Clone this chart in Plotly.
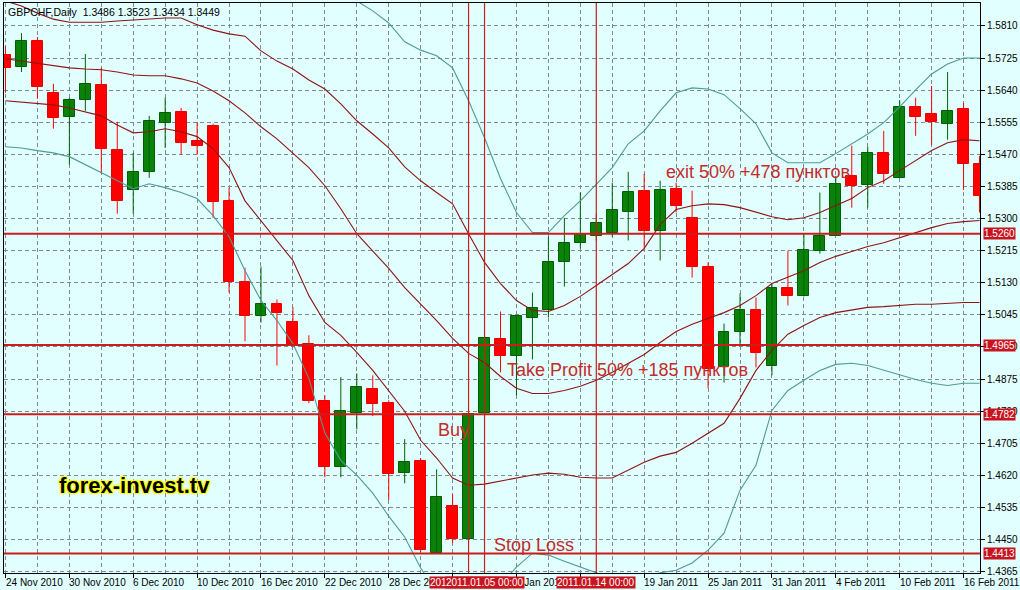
import plotly.graph_objects as go

# ---------------- data ----------------
tick_idx = list(range(0, 61, 4))
tick_text = ["24 Nov 2010", "30 Nov 2010", "6 Dec 2010", "10 Dec 2010", "16 Dec 2010",
             "22 Dec 2010", "28 Dec 2010", "3 Jan 2011", "7 Jan 2011", "13 Jan 2011",
             "19 Jan 2011", "25 Jan 2011", "31 Jan 2011", "4 Feb 2011", "10 Feb 2011",
             "16 Feb 2011"]

opens = [1.5733, 1.5702, 1.5770, 1.5633, 1.5569, 1.5614, 1.5654, 1.5482, 1.5376, 1.5424,
         1.5554, 1.5583, 1.5506, 1.5546, 1.5347, 1.5133, 1.5041, 1.5073, 1.5025, 1.4967,
         1.4816, 1.4642, 1.4784, 1.4848, 1.4811, 1.4626, 1.4658, 1.4414, 1.4539, 1.4451,
         1.4784, 1.4980, 1.4935, 1.5038, 1.5059, 1.5184, 1.5236, 1.5255, 1.5263, 1.5318,
         1.5374, 1.5268, 1.5379, 1.5302, 1.5173, 1.4906, 1.5001, 1.5057, 1.4909, 1.5115,
         1.5096, 1.5215, 1.5255, 1.5413, 1.5390, 1.5474, 1.5408, 1.5596, 1.5577, 1.5551,
         1.5591, 1.5445]
highs = [1.5757, 1.5791, 1.5781, 1.5657, 1.5620, 1.5736, 1.5699, 1.5556, 1.5474, 1.5572,
         1.5620, 1.5593, 1.5554, 1.5551, 1.5382, 1.5170, 1.5173, 1.5086, 1.5065, 1.4991,
         1.4832, 1.4880, 1.4890, 1.4885, 1.4819, 1.4716, 1.4666, 1.4636, 1.4570, 1.4782,
         1.4985, 1.5054, 1.5041, 1.5104, 1.5252, 1.5302, 1.5369, 1.5313, 1.5395, 1.5424,
         1.5419, 1.5400, 1.5395, 1.5374, 1.5184, 1.5022, 1.5102, 1.5091, 1.5128, 1.5215,
         1.5260, 1.5369, 1.5413, 1.5493, 1.5490, 1.5532, 1.5614, 1.5620, 1.5651, 1.5688,
         1.5606, 1.5466]
lows = [1.5633, 1.5688, 1.5617, 1.5538, 1.5443, 1.5585, 1.5419, 1.5313, 1.5313, 1.5408,
        1.5487, 1.5469, 1.5469, 1.5302, 1.5104, 1.4975, 1.5025, 1.4911, 1.4959, 1.4811,
        1.4615, 1.4615, 1.4742, 1.4777, 1.4555, 1.4599, 1.4417, 1.4413, 1.4441, 1.4446,
        1.4782, 1.4893, 1.4832, 1.4927, 1.5038, 1.5120, 1.5221, 1.5242, 1.5252, 1.5242,
        1.5223, 1.5189, 1.5316, 1.5144, 1.4851, 1.4866, 1.4967, 1.4906, 1.4885, 1.5070,
        1.5094, 1.5207, 1.5255, 1.5329, 1.5329, 1.5392, 1.5408, 1.5519, 1.5495, 1.5509,
        1.5376, 1.5316]
closes = [1.5699, 1.5770, 1.5649, 1.5567, 1.5614, 1.5657, 1.5485, 1.5347, 1.5424, 1.5559,
          1.5580, 1.5501, 1.5493, 1.5345, 1.5133, 1.5041, 1.5073, 1.5051, 1.4964, 1.4816,
          1.4642, 1.4790, 1.4853, 1.4808, 1.4623, 1.4655, 1.4422, 1.4562, 1.4451, 1.4782,
          1.4983, 1.4935, 1.5041, 1.5062, 1.5184, 1.5236, 1.5260, 1.5289, 1.5324, 1.5371,
          1.5268, 1.5376, 1.5334, 1.5173, 1.4903, 1.4999, 1.5057, 1.4943, 1.5115, 1.5094,
          1.5218, 1.5255, 1.5392, 1.5387, 1.5474, 1.5419, 1.5596, 1.5569, 1.5556, 1.5585,
          1.5445, 1.5361]

# inner bands (maroon)
bb_upper = [1.5876, 1.5863, 1.5844, 1.5828, 1.5820, 1.5820, 1.5820, 1.5823, 1.5826, 1.5828,
            1.5831, 1.5831, 1.5813, 1.5799, 1.5789, 1.5783, 1.5744, 1.5717, 1.5696, 1.5667,
            1.5643, 1.5604, 1.5559, 1.5524, 1.5487, 1.5437, 1.5400, 1.5369, 1.5339, 1.5260,
            1.5184, 1.5128, 1.5083, 1.5057, 1.5054, 1.5070, 1.5094, 1.5123, 1.5152, 1.5181,
            1.5221, 1.5284, 1.5324, 1.5334, 1.5339, 1.5337, 1.5329, 1.5316, 1.5305, 1.5297,
            1.5302, 1.5316, 1.5334, 1.5353, 1.5382, 1.5400, 1.5427, 1.5453, 1.5480, 1.5501,
            1.5509, 1.5506]
bb_mid = [1.5723, 1.5717, 1.5712, 1.5704, 1.5699, 1.5696, 1.5694, 1.5688, 1.5680, 1.5678,
          1.5678, 1.5670, 1.5659, 1.5638, 1.5612, 1.5580, 1.5543, 1.5511, 1.5474, 1.5435,
          1.5387, 1.5326, 1.5260, 1.5215, 1.5168, 1.5117, 1.5073, 1.5030, 1.4983, 1.4943,
          1.4919, 1.4882, 1.4851, 1.4837, 1.4837, 1.4845, 1.4856, 1.4872, 1.4893, 1.4917,
          1.4940, 1.4972, 1.5001, 1.5020, 1.5036, 1.5051, 1.5070, 1.5096, 1.5128, 1.5144,
          1.5162, 1.5184, 1.5200, 1.5213, 1.5226, 1.5236, 1.5250, 1.5263, 1.5276, 1.5287,
          1.5292, 1.5295]
bb_lower = [1.5612, 1.5609, 1.5606, 1.5601, 1.5593, 1.5583, 1.5572, 1.5548, 1.5527, 1.5530,
            1.5538, 1.5530, 1.5517, 1.5485, 1.5435, 1.5347, 1.5295, 1.5242, 1.5189, 1.5096,
            1.5025, 1.4991, 1.4946, 1.4898, 1.4845, 1.4790, 1.4713, 1.4666, 1.4613, 1.4594,
            1.4597, 1.4605, 1.4615, 1.4621, 1.4626, 1.4623, 1.4615, 1.4613, 1.4613, 1.4634,
            1.4655, 1.4671, 1.4681, 1.4705, 1.4732, 1.4758, 1.4824, 1.4898, 1.4951, 1.4994,
            1.5017, 1.5038, 1.5051, 1.5059, 1.5065, 1.5067, 1.5070, 1.5073, 1.5073, 1.5075,
            1.5078, 1.5078]
# outer bands (teal)
outer_upper = [None] * 21 + [
            1.5902, 1.5876, 1.5850, 1.5818, 1.5768, 1.5746, 1.5731, 1.5699, 1.5612,
            1.5514, 1.5406, 1.5316, 1.5263, 1.5263, 1.5308, 1.5347, 1.5392, 1.5435, 1.5498,
            1.5532, 1.5585, 1.5633, 1.5646, 1.5643, 1.5628, 1.5591, 1.5551, 1.5474, 1.5448,
            1.5448, 1.5448, 1.5472, 1.5498, 1.5524, 1.5554, 1.5596, 1.5641, 1.5683, 1.5709,
            1.5725, 1.5725]
outer_lower = [1.5490, 1.5487, 1.5480, 1.5474, 1.5464, 1.5443, 1.5421, 1.5400, 1.5379, 1.5392,
               1.5382, 1.5369, 1.5353, 1.5308, 1.5252, 1.5162, 1.5083, 1.5030, 1.4969, 1.4877,
               1.4732, 1.4660, 1.4621, 1.4573, 1.4512, 1.4457, 1.4375, 1.4311, 1.4290, 1.4277,
               1.4290, 1.4330, 1.4377, 1.4414, 1.4409, 1.4393, 1.4377, 1.4362, 1.4348, 1.4343,
               1.4348, 1.4362, 1.4369, 1.4388, 1.4422, 1.4467, 1.4581, 1.4647, 1.4792, 1.4845,
               1.4872, 1.4898, 1.4914, 1.4917, 1.4911, 1.4898, 1.4885, 1.4874, 1.4864, 1.4858,
               1.4864, 1.4864]

hlines = [1.5260, 1.4965, 1.4782, 1.4413]
vline_idx = [29, 30, 37]
vline_text = ["2011.01.04 00:00", "2011.01.05 00:00", "2011.01.14 00:00"]

title_text = "GBPCHF,Daily  1.3486 1.3523 1.3434 1.3449"
notes = [("exit 50% +478 пунктов", 41.25, 1.5423),
         ("Take Profit 50% +185 пунктов", 31.3, 1.4898),
         ("Buy", 26.95, 1.4740),
         ("Stop Loss", 30.45, 1.4437)]
brand = ("forex-invest.tv", 3.2, 1.4594)

# ---------------- styling ----------------
BG = "#e1ffff"
GRID = "#7d8b90"
BULL = "#0a820a"
BULL_EDGE = "#006000"
BEAR = "#ff0000"
MAROON = "#8e1414"
TEAL = "#509a96"
LINE_RED = "#cc1c1c"
FONT = "Liberation Sans"

idx = list(range(len(opens)))
bull_i = [i for i in idx if closes[i] >= opens[i]]
bear_i = [i for i in idx if closes[i] < opens[i]]


def wick_xy(ids):
    xs, ys = [], []
    for i in ids:
        xs += [i, i, None]
        ys += [lows[i], highs[i], None]
    return xs, ys


fig = go.Figure()
for ids, col in ((bull_i, BULL_EDGE), (bear_i, BEAR)):
    wx, wy = wick_xy(ids)
    fig.add_trace(go.Scatter(x=wx, y=wy, mode="lines", line=dict(color=col, width=1),
                             hoverinfo="skip", showlegend=False))

for ids, fill, edge in ((bull_i, BULL, BULL_EDGE), (bear_i, BEAR, "#e80000")):
    fig.add_trace(go.Bar(
        x=ids,
        y=[abs(closes[i] - opens[i]) for i in ids],
        base=[min(opens[i], closes[i]) for i in ids],
        width=0.68,
        marker=dict(color=fill, line=dict(color=edge, width=1)),
        showlegend=False, hoverinfo="skip"))

for series, col in ((bb_upper, MAROON), (bb_mid, MAROON), (bb_lower, MAROON),
                    (outer_upper, TEAL), (outer_lower, TEAL)):
    fig.add_trace(go.Scatter(x=idx, y=series, mode="lines",
                             line=dict(color=col, width=1.1),
                             hoverinfo="skip", showlegend=False, connectgaps=False))

shapes = []
for lv in hlines:
    shapes.append(dict(type="line", xref="paper", x0=0, x1=1, yref="y", y0=lv, y1=lv,
                       line=dict(color=LINE_RED, width=2), layer="above"))
for vi in vline_idx:
    shapes.append(dict(type="line", xref="x", x0=vi, x1=vi, yref="paper", y0=0, y1=1,
                       line=dict(color=LINE_RED, width=1.2), layer="above"))

ann = []
ann.append(dict(text=title_text, xref="paper", yref="paper", x=0, y=1, xanchor="left",
                yanchor="top", xshift=2, yshift=-1, showarrow=False,
                font=dict(family=FONT, size=10.5, color="black")))
for t, x, y in notes:
    ann.append(dict(text=t, xref="x", yref="y", x=x, y=y, xanchor="left", yanchor="middle",
                    showarrow=False, font=dict(family=FONT, size=18, color="#c42a2a")))
ann.append(dict(text="<b>" + brand[0] + "</b>", xref="x", yref="y", x=brand[1], y=brand[2],
                xanchor="left", yanchor="middle", showarrow=False,
                font=dict(family=FONT, size=22, color="black",
                          shadow="1px 1px 1px #ffff00, -1px -1px 1px #ffff00, "
                                 "1px -1px 1px #ffff00, -1px 1px 1px #ffff00, 0 0 3px #ffff00")))
for ti, tt in zip(tick_idx, tick_text):
    ann.append(dict(text=tt, xref="x", yref="paper", x=ti, y=0, xanchor="left",
                    yanchor="top", xshift=-2, yshift=-2, showarrow=False,
                    font=dict(family=FONT, size=10, color="black")))
for vi, vt in zip(vline_idx, vline_text):
    ann.append(dict(text=vt, xref="x", yref="paper", x=vi, y=0, xanchor="center",
                    yanchor="top", yshift=-3, showarrow=False, bgcolor="#c8141e",
                    borderpad=0, font=dict(family=FONT, size=10, color="white")))
for lv in hlines:
    ann.append(dict(text=f"{lv:.4f}", xref="paper", yref="y", x=1, y=lv, xanchor="left",
                    yanchor="middle", xshift=3, showarrow=False, bgcolor="#c8141e",
                    borderpad=0, font=dict(family=FONT, size=10, color="white")))

grid_minor = [i for i in range(2, 62, 4)]

fig.update_layout(
    width=1020, height=590,
    margin=dict(l=4, r=38, t=2, b=17),
    paper_bgcolor=BG, plot_bgcolor=BG,
    barmode="overlay", bargap=0,
    showlegend=False,
    shapes=shapes, annotations=ann,
    font=dict(family=FONT, size=10, color="black"),
    xaxis=dict(range=[-0.094, 61.03], tickmode="array", tickvals=tick_idx,
               showticklabels=False, ticks="outside", ticklen=4, tickcolor="black",
               showgrid=True, gridcolor=GRID, griddash="4px,3px", gridwidth=1,
               minor=dict(tickmode="array", tickvals=grid_minor, showgrid=True,
                          gridcolor=GRID, griddash="4px,3px", ticklen=0),
               showline=True, linecolor="black", linewidth=1, mirror=True,
               zeroline=False, fixedrange=True),
    yaxis=dict(range=[1.43616, 1.58708], side="right", tickmode="linear",
               tick0=1.4365, dtick=0.0085, tickformat=".4f",
               ticks="outside", ticklen=4, tickcolor="black",
               tickfont=dict(family=FONT, size=10, color="black"),
               showgrid=True, gridcolor=GRID, griddash="4px,3px", gridwidth=1,
               showline=True, linecolor="black", linewidth=1, mirror=True,
               zeroline=False, fixedrange=True),
)

fig.write_html("out.html",
               config={"displayModeBar": False},
               post_script="document.body.style.margin='0';"
                           "document.body.style.overflow='hidden';"
                           "document.body.style.background='" + BG + "';")
